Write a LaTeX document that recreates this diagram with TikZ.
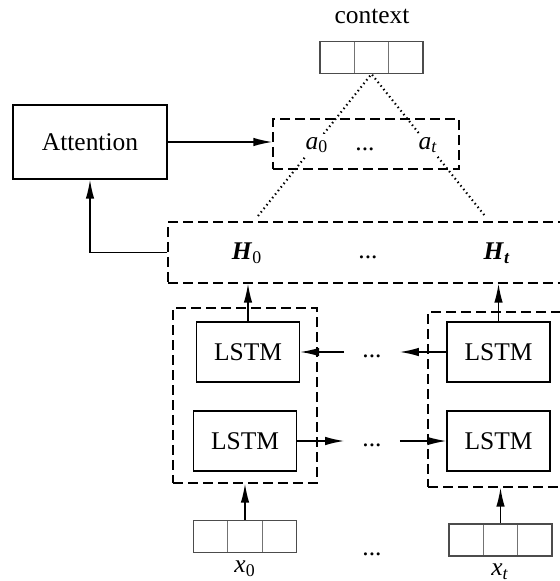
\documentclass[tikz,border=0pt]{standalone}
\usepackage{fontspec}
\setmainfont{Liberation Serif}
\usetikzlibrary{arrows.meta,positioning,calc}
\tikzset{
	line/.style={draw, line width=0.8pt, -{Latex[length=3.8mm,width=1.7mm]}},
	box/.style={draw, line width=0.8pt, minimum width=2.06cm, minimum height=1.2cm},
	grp/.style={draw, line width=0.8pt, dash pattern=on 2mm off 1mm},
	dots/.style={draw, line width=1.2pt, dash pattern=on 0.8pt off 1.8pt},
	dt/.style={text height=1.6ex, text depth=.25ex, inner sep=1pt},
	lbl/.style={fill=white, inner sep=2pt},
	vec/.style={draw=black!70, line width=0.6pt, minimum width=2.06cm, minimum height=0.64cm,
		path picture={
			\foreach \k in {1,2}
				\draw[black!55, line width=0.6pt]
					($(path picture bounding box.south west)!\k/3!(path picture bounding box.south east)$)
					-- ($(path picture bounding box.north west)!\k/3!(path picture bounding box.north east)$);
		}}
}

\begin{document}
\begin{tikzpicture}[x=0.02cm, y=-0.02cm, font=\fontsize{14.5}{17}\selectfont]
	\useasboundingbox (0,0) rectangle (560,581);
	\clip (0,0) rectangle (560,581);

	% context vector
	\node[vec] (ctx) at (371.5,57.5) {};
	\node (ctxlbl) at (372,16) {context};

	% attention weights
	\coordinate (hl) at (258,216);
	\coordinate (hr) at (485,216);
	\draw[dots] (hl) -- (ctx.south) -- (hr);
	\node[grp, minimum width=3.72cm, minimum height=1cm] (abox) at (366,144) {};
	\node[lbl] (a0) at (317,145) {\textit{a}\textsubscript{0}};
	\node[dt] (adots) at (365,145) {...};
	\node[lbl] (at) at (428,145) {\textit{a}\textsubscript{\textit{t}}};

	\node[box, minimum width=3.08cm, minimum height=1.48cm] (att) at (90,142) {Attention};
	\draw[line] (att.east) -- (att.east -| abox.west);

	% hidden states
	\node[grp, minimum width=8.64cm, minimum height=1.22cm] (hbox) at (384,252.5) {};
	\node (h0) at (247,253) {\textbf{\textit{H}}\textsubscript{0}};
	\node[dt] (hdots) at (368,253) {...};
	\node (ht) at (497,253) {\textbf{\textit{H}}\textsubscript{\textbf{\textit{t}}}};
	\draw[line] (hbox.west) -| (att.south);

	% LSTM layers
	\node[grp, minimum width=2.88cm, minimum height=3.5cm] (gl) at (245,395.5) {};
	\node[grp, minimum width=2.88cm, minimum height=3.5cm] (gr) at (500,399.5) {};
	\node[box] (lstmtl) at (248,352) {LSTM};
	\node[box] (lstmbl) at (245,441) {LSTM};
	\node[box] (lstmtr) at (498.5,352) {LSTM};
	\node[box] (lstmbr) at (498.5,441) {LSTM};
	\node[dt, minimum width=1.1cm] (dtop) at (372,352) {...};
	\node[dt, minimum width=1.1cm] (dbot) at (372,441) {...};
	\draw[line] (lstmtr) -- (dtop);
	\draw[line] (dtop) -- (lstmtl);
	\draw[line] (lstmbl) -- (dbot);
	\draw[line] (dbot) -- (lstmbr);
	\draw[line] (lstmtl) -- (lstmtl |- hbox.south);
	\draw[line] (lstmtr) -- (lstmtr |- hbox.south);

	% inputs
	\node[vec] (x0) at (245,536.5) {};
	\node[vec] (xt) at (500.5,540) {};
	\node (x0lbl) at (245,569) {\textit{x}\textsubscript{0}};
	\node[dt] (xdots) at (372,550) {...};
	\node (xtlbl) at (500,572) {\textit{x}\textsubscript{\textit{t}}};
	\draw[line] (x0) -- (x0 |- gl.south);
	\draw[line] (xt) -- (xt |- gr.south);
\end{tikzpicture}
\end{document}
